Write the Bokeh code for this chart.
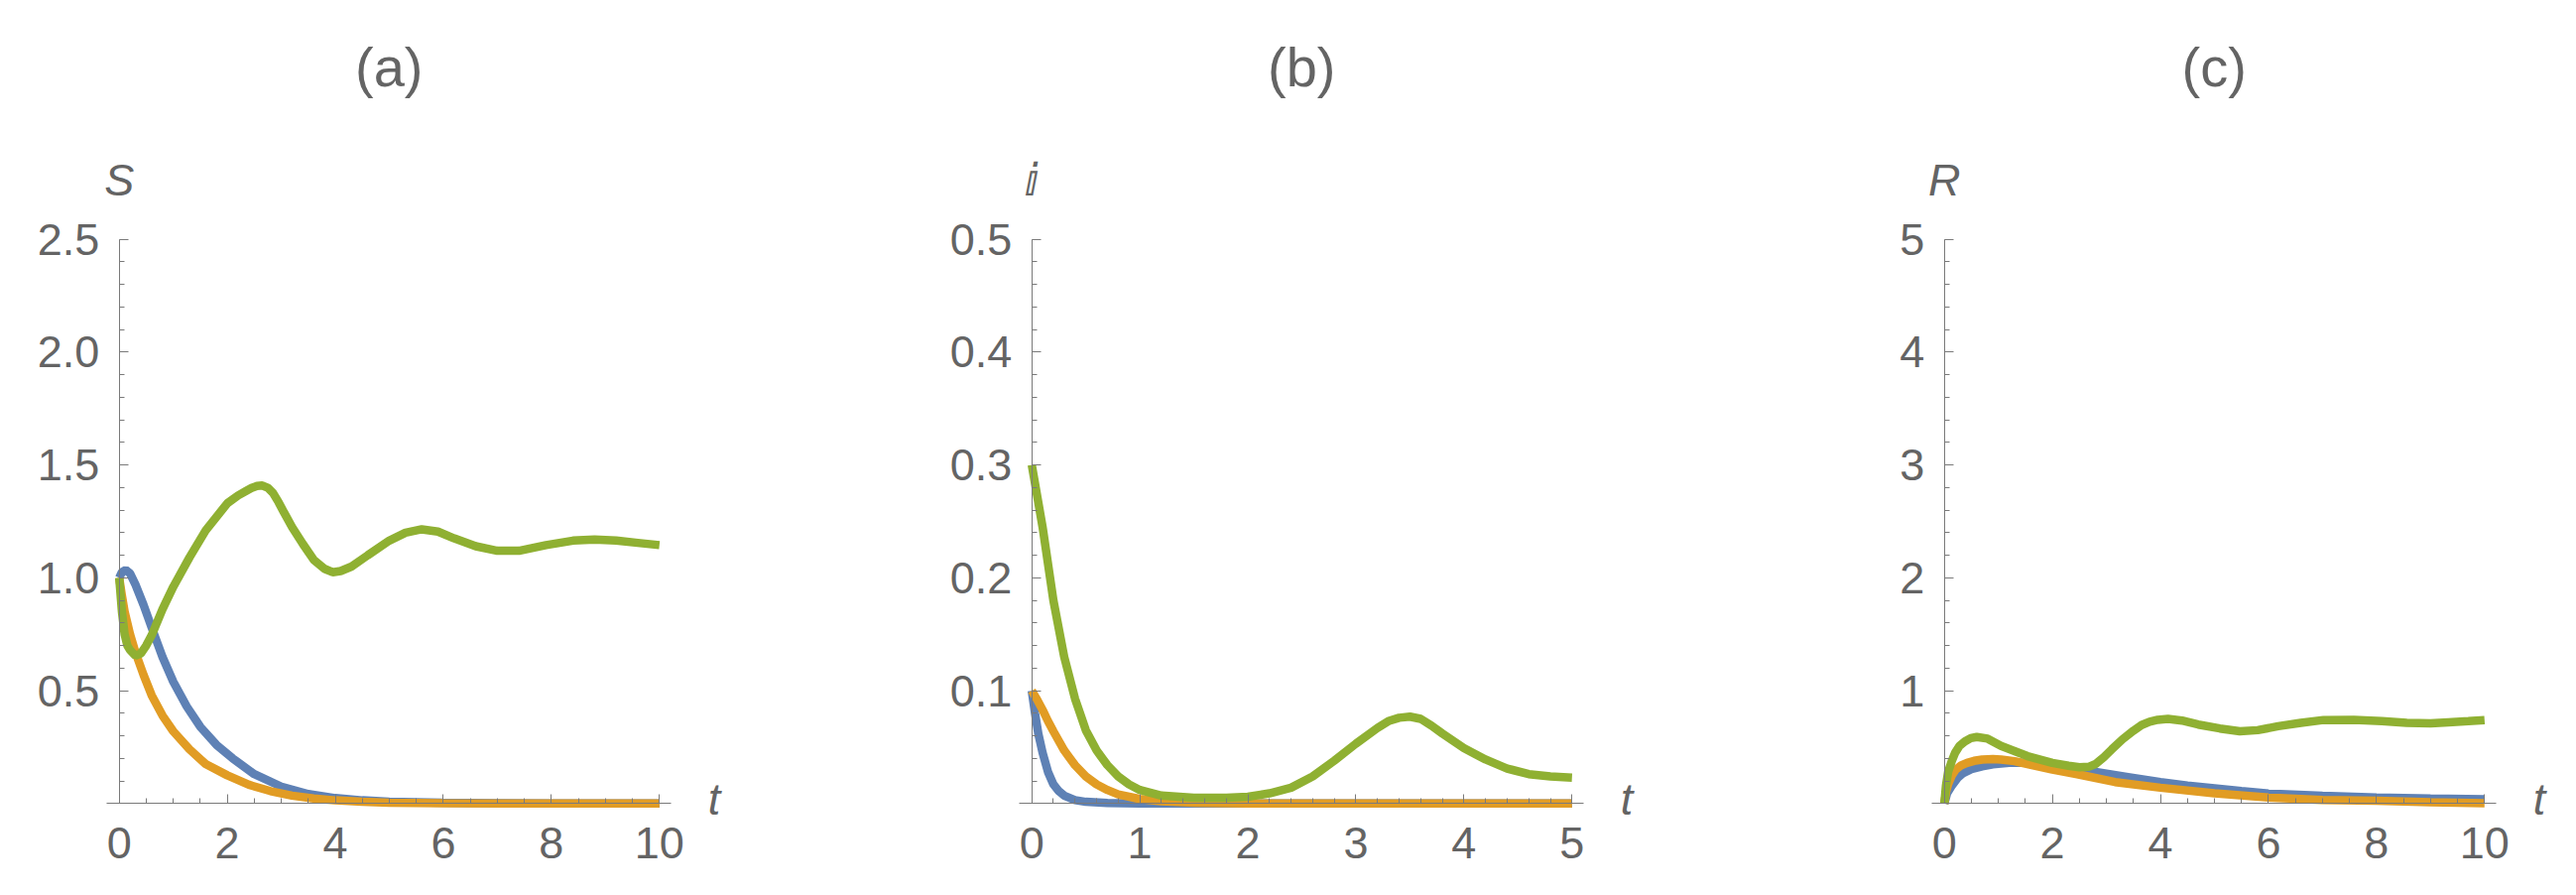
import numpy as np
from bokeh.plotting import figure
from bokeh.layouts import row
from bokeh.models import Range1d, FixedTicker, NumeralTickFormatter, Label
from bokeh.embed import file_html
from bokeh.resources import INLINE

# ---------------- data ----------------
titles = ["(a)", "(b)", "(c)"]
ylabels = ["S", "\u2148", "R"]
xlabel = "t"

# (a) S(t)
tS_blue = [0, 0.05, 0.12, 0.2, 0.3, 0.45, 0.6, 0.8, 1.0, 1.25, 1.5, 1.8, 2.1, 2.5, 3.0, 3.5, 4.0, 4.5, 5.0, 6.0, 7.0, 8.0, 10.0]
S_blue = [1.0, 1.025, 1.035, 1.02, 0.97, 0.88, 0.78, 0.65, 0.54, 0.43, 0.34, 0.26, 0.20, 0.13, 0.075, 0.042, 0.024, 0.014, 0.008, 0.003, 0.001, 0.0, 0.0]
tS_orange = [0, 0.05, 0.1, 0.2, 0.3, 0.45, 0.6, 0.8, 1.0, 1.3, 1.6, 2.0, 2.4, 2.8, 3.2, 3.6, 4.0, 4.5, 5.0, 6.0, 8.0, 10.0]
S_orange = [1.0, 0.92, 0.85, 0.75, 0.67, 0.57, 0.48, 0.39, 0.32, 0.24, 0.175, 0.125, 0.083, 0.055, 0.035, 0.022, 0.014, 0.008, 0.004, 0.001, 0.0, 0.0]
tS_green = [0, 0.05, 0.1, 0.15, 0.2, 0.3, 0.4, 0.5, 0.6, 0.8, 1.0, 1.3, 1.6, 2.0, 2.2, 2.35, 2.45, 2.55, 2.65, 2.75, 2.85, 2.95, 3.05, 3.2, 3.4, 3.6, 3.8, 3.95, 4.1, 4.3, 4.6, 5.0, 5.3, 5.6, 5.9, 6.2, 6.6, 7.0, 7.4, 7.9, 8.4, 8.8, 9.2, 9.6, 10.0]
S_green = [1.0, 0.85, 0.75, 0.70, 0.68, 0.655, 0.665, 0.70, 0.745, 0.86, 0.96, 1.09, 1.21, 1.33, 1.365, 1.385, 1.398, 1.407, 1.409, 1.399, 1.375, 1.335, 1.29, 1.225, 1.15, 1.08, 1.04, 1.025, 1.03, 1.05, 1.10, 1.165, 1.20, 1.215, 1.205, 1.175, 1.14, 1.12, 1.12, 1.145, 1.165, 1.17, 1.165, 1.155, 1.145]

# (b) i(t)
ti_blue = [0, 0.03, 0.06, 0.1, 0.15, 0.2, 0.25, 0.3, 0.4, 0.5, 0.7, 1.0, 5.0]
i_blue = [0.1, 0.08, 0.062, 0.045, 0.028, 0.017, 0.011, 0.007, 0.003, 0.0015, 0.0004, 0.0, 0.0]
ti_orange = [0, 0.05, 0.1, 0.15, 0.2, 0.3, 0.4, 0.5, 0.6, 0.7, 0.8, 1.0, 1.2, 1.5, 2.0, 5.0]
i_orange = [0.1, 0.092, 0.083, 0.073, 0.064, 0.047, 0.034, 0.024, 0.017, 0.012, 0.008, 0.004, 0.002, 0.0007, 0.0, 0.0]
ti_green = [0, 0.1, 0.2, 0.3, 0.4, 0.5, 0.6, 0.7, 0.8, 0.9, 1.0, 1.2, 1.5, 1.8, 2.0, 2.2, 2.4, 2.6, 2.8, 3.0, 3.2, 3.3, 3.4, 3.5, 3.6, 3.7, 3.8, 4.0, 4.2, 4.4, 4.6, 4.8, 5.0]
i_green = [0.30, 0.245, 0.18, 0.13, 0.093, 0.065, 0.047, 0.034, 0.024, 0.017, 0.012, 0.007, 0.005, 0.005, 0.006, 0.009, 0.014, 0.024, 0.038, 0.053, 0.067, 0.073, 0.076, 0.077, 0.075, 0.069, 0.062, 0.049, 0.039, 0.031, 0.026, 0.024, 0.023]

# (c) R(t)
tR_blue = [0, 0.05, 0.14, 0.25, 0.35, 0.5, 0.7, 0.9, 1.2, 1.5, 2.0, 2.4, 2.8, 3.4, 4.0, 4.5, 5.0, 5.5, 6.0, 7.0, 8.0, 9.0, 10.0]
R_blue = [0, 0.09, 0.16, 0.23, 0.27, 0.305, 0.33, 0.348, 0.36, 0.362, 0.35, 0.315, 0.28, 0.235, 0.19, 0.16, 0.135, 0.11, 0.088, 0.068, 0.053, 0.045, 0.038]
tR_orange = [0, 0.03, 0.07, 0.14, 0.21, 0.3, 0.42, 0.55, 0.7, 0.9, 1.05, 1.3, 1.54, 2.0, 2.46, 3.16, 4.0, 5.0, 6.0, 7.0, 8.0, 9.0, 10.0]
R_orange = [0, 0.1, 0.17, 0.25, 0.30, 0.335, 0.36, 0.378, 0.39, 0.393, 0.39, 0.375, 0.35, 0.30, 0.26, 0.19, 0.14, 0.09, 0.053, 0.032, 0.024, 0.012, 0.003]
tR_green = [0, 0.03, 0.07, 0.14, 0.2, 0.28, 0.38, 0.49, 0.6, 0.8, 1.05, 1.3, 1.54, 2.0, 2.3, 2.5, 2.67, 2.8, 2.95, 3.1, 3.3, 3.5, 3.65, 3.8, 3.95, 4.14, 4.4, 4.7, 5.1, 5.47, 5.8, 6.18, 6.6, 7.02, 7.58, 8.1, 8.56, 9.0, 9.33, 9.7, 10.0]
R_green = [0, 0.16, 0.28, 0.38, 0.45, 0.51, 0.55, 0.58, 0.59, 0.575, 0.51, 0.465, 0.42, 0.36, 0.335, 0.322, 0.325, 0.35, 0.41, 0.48, 0.57, 0.645, 0.695, 0.725, 0.742, 0.75, 0.735, 0.70, 0.665, 0.64, 0.65, 0.685, 0.715, 0.74, 0.742, 0.73, 0.715, 0.71, 0.72, 0.73, 0.74]

# ticks
x_major = [[0, 2, 4, 6, 8, 10], [0, 1, 2, 3, 4, 5], [0, 2, 4, 6, 8, 10]]
x_minor_step = [0.5, 0.2, 0.5]
y_major = [[0.5, 1.0, 1.5, 2.0, 2.5], [0.1, 0.2, 0.3, 0.4, 0.5], [1, 2, 3, 4, 5]]
y_minor_step = [0.1, 0.02, 0.2]
y_fmt = ["0.0", "0.0", "0"]

# ---------------- style / geometry ----------------
BLUE, ORANGE, GREEN = "#5E81B5", "#E19C24", "#8FB032"
GRAY = "#646464"
AXIS = "#7a7a7a"
FONT = "Liberation Sans"
LW = 8.5

PAGE_X0, PAGE_Y0 = 0, 0
ORIGIN_X = [119.7, 1039.7, 1959.7]   # page px of x=0
ORIGIN_Y = 809.3                      # page px of y=0
X_PX = 544.6                           # px for full x span
Y_PX = 568.6                           # px for full y span
FIG_W = [920, 920, 745]
FIG_H = 890

panels = [
    (10.0, 2.5, [(tS_blue, S_blue, BLUE), (tS_orange, S_orange, ORANGE), (tS_green, S_green, GREEN)]),
    (5.0, 0.5, [(ti_blue, i_blue, BLUE), (ti_orange, i_orange, ORANGE), (ti_green, i_green, GREEN)]),
    (10.0, 5.0, [(tR_blue, R_blue, BLUE), (tR_orange, R_orange, ORANGE), (tR_green, R_green, GREEN)]),
]

figs = []
left = PAGE_X0
for k, (xmax, ymax, series) in enumerate(panels):
    xs = X_PX / xmax  # px per unit
    ys = Y_PX / ymax
    x0 = (left - ORIGIN_X[k]) / xs
    x1 = x0 + FIG_W[k] / xs
    y1 = (ORIGIN_Y - PAGE_Y0) / ys
    y0 = y1 - FIG_H / ys
    left += FIG_W[k]
    p = figure(frame_width=FIG_W[k], frame_height=FIG_H,
               x_range=Range1d(x0, x1), y_range=Range1d(y0, y1),
               output_backend="svg", toolbar_location=None,
               min_border_left=0, min_border_right=0,
               min_border_top=0, min_border_bottom=0)
    p.outline_line_color = None
    p.grid.visible = False
    p.background_fill_color = "white"
    p.border_fill_color = "white"

    for tx, vy, col in series:
        p.line(tx, vy, line_color=col, line_width=LW)

    xa = p.xaxis[0]
    ya = p.yaxis[0]
    xa.fixed_location = 0
    ya.fixed_location = 0
    xa.bounds = (-12.4 / xs, xmax + 11.4 / xs)
    ya.bounds = (0, ymax)
    xminor = [float(v) for v in np.round(np.arange(0, xmax + 1e-9, x_minor_step[k]), 4)]
    yminor = [float(v) for v in np.round(np.arange(0, ymax + 1e-9, y_minor_step[k]), 4)]
    xa.ticker = FixedTicker(ticks=x_major[k], minor_ticks=xminor)
    ya.ticker = FixedTicker(ticks=y_major[k], minor_ticks=yminor)
    ya.formatter = NumeralTickFormatter(format=y_fmt[k])
    for ax in (xa, ya):
        ax.axis_line_color = AXIS
        ax.axis_line_width = 1
        ax.major_tick_line_color = AXIS
        ax.minor_tick_line_color = AXIS
        ax.major_tick_in = 9
        ax.major_tick_out = 0
        ax.minor_tick_in = 5
        ax.minor_tick_out = 0
        ax.major_label_text_font = FONT
        ax.major_label_text_font_size = "45px"
        ax.major_label_text_color = GRAY
    xa.major_label_standoff = 24
    ya.major_label_standoff = 20

    # title and axis labels
    p.add_layout(Label(x=272 / xs, y=742.6 / ys, text=titles[k], text_align="center",
                       text_baseline="middle", text_font=FONT, text_font_size="56px",
                       text_color=GRAY))
    p.add_layout(Label(x=0, y=ymax + 59.7 / ys, text=ylabels[k], text_align="center",
                       text_baseline="middle",
                       text_font=(FONT if k != 1 else "DejaVu Sans"),
                       text_font_size="45px", text_font_style="italic", text_color=GRAY))
    p.add_layout(Label(x=xmax + 55.2 / xs, y=4.3 / ys, text=xlabel, text_align="center",
                       text_baseline="middle", text_font=FONT, text_font_size="45px",
                       text_font_style="italic", text_color=GRAY))
    figs.append(p)

layout = row(*figs, spacing=0)
open("out.html", "w").write(file_html(layout, INLINE))
